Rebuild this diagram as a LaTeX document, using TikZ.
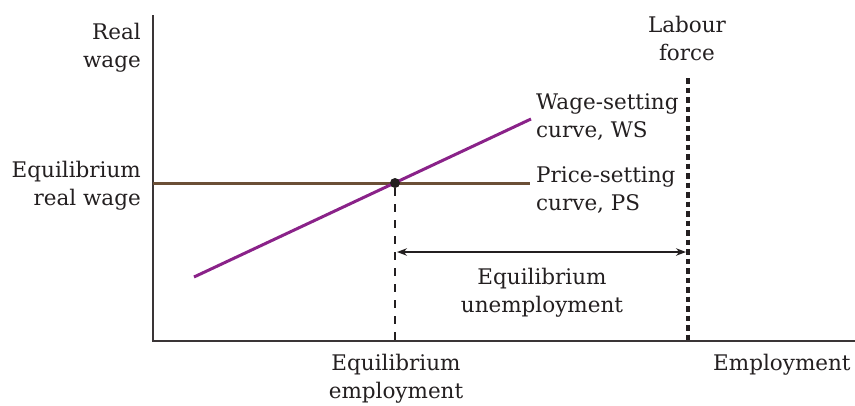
\documentclass[tikz,border=0pt]{standalone}
\usepackage{fontspec}
\setmainfont{DejaVu Serif}
\usetikzlibrary{arrows.meta}
\definecolor{txt}{HTML}{231F20}
\definecolor{axiscol}{HTML}{3A3536}
\definecolor{psbrown}{HTML}{6B4F36}
\definecolor{wspurple}{HTML}{8A2289}
\begin{document}
\begin{tikzpicture}[x=1pt,y=-1pt,
  lbl/.style={inner sep=0pt, text=txt, font=\fontsize{21.5}{28}\selectfont},
  axisline/.style={draw=axiscol, line width=1.5pt},
  curveline/.style={line width=3pt},
  dashedline/.style={draw=txt, line width=1.1pt, dash pattern=on 8pt off 8pt},
  dottedline/.style={draw=txt, line width=4pt, dash pattern=on 5.5pt off 4pt},
  dimarrow/.style={draw=txt, line width=1.3pt, {Stealth[length=10pt,width=7.5pt]}-{Stealth[length=10pt,width=7.5pt]}},
  eqdot/.style={circle, fill=txt, inner sep=0pt, minimum size=10pt}]
\useasboundingbox (0,0) rectangle (855,405);

% coordinates
\coordinate (ytop) at (153,15);
\coordinate (O) at (153,341);
\coordinate (xend) at (855,341);
\coordinate (psL) at (153,183);
\coordinate (psR) at (530,183);
\coordinate (wsL) at (194,277);
\coordinate (wsR) at (531,119);
\coordinate (eqbase) at (395,341);
\coordinate (lfT) at (688,78);
\coordinate (lfB) at (688,341);
\coordinate (arrL) at (397,252);
\coordinate (arrR) at (686,252);

% axes
\draw[axisline] (ytop) -- (O) -- (xend);

% curves
\draw[curveline, draw=psbrown] (psL) -- (psR);
\draw[curveline, draw=wspurple] (wsL) -- (wsR);

% equilibrium point
\node[eqdot] (eq) at (395,183) {};
\draw[dashedline] (eq.south) -- (eqbase);

% labour force
\draw[dottedline] (lfT) -- (lfB);

% equilibrium unemployment arrow
\draw[dimarrow] (arrL) -- (arrR);

% labels
\node[lbl, anchor=north east, align=right] (realwage) at (141,23) {Real\\wage};
\node[lbl, anchor=north east, align=right] (eqwage) at (141,161) {Equilibrium\\real wage};
\node[lbl, anchor=north, align=center] (labour) at (687,16) {Labour\\force};
\node[lbl, anchor=north west, align=left] (wslbl) at (536,93) {Wage-setting\\curve, WS};
\node[lbl, anchor=north west, align=left] (pslbl) at (536,166) {Price-setting\\curve, PS};
\node[lbl, anchor=north, align=center] (unemp) at (542,268) {Equilibrium\\unemployment};
\node[lbl, anchor=north, align=center] (emp) at (396,354) {Equilibrium\\employment};
\node[lbl, anchor=north west] (employment) at (713,354) {Employment};
\end{tikzpicture}
\end{document}
